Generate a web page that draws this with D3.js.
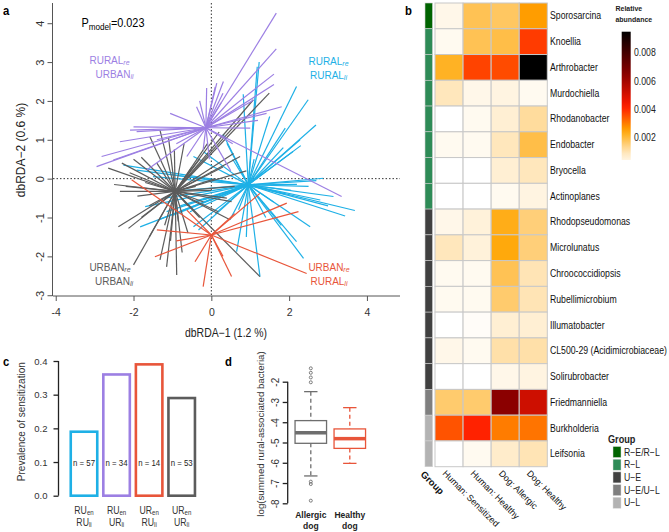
<!DOCTYPE html>
<html lang="en">
<head>
<meta charset="UTF-8">
<title>dbRDA, heatmap, prevalence, boxplot</title>
<script src="https://cdn.jsdelivr.net/npm/d3@7/dist/d3.min.js"></script>
<style>
  body { margin: 0; background: #fff; }
  svg { font-family: "Liberation Sans", Arial, sans-serif; }
  .axa path, .axa line { stroke: #555; }
  .axa text { fill: #333; }
  .axc path, .axc line { stroke: #222; stroke-width: 1.3; }
  .axc text { fill: #333; }
</style>
</head>
<body>
<script>
// ---------- panel a: dbRDA spider plot ----------
var centroidRuralRural = [0.95, -0.16];
var centroidRuralUrban = [-0.14, 1.31];
var centroidUrbanRural = [0.0, -1.45];
var centroidUrbanUrban = [-0.93, -0.33];

var ptsRuralRural = [[1.23,3.0],[1.18,2.88],[0.82,2.17],[2.19,2.37],[2.49,2.03],[2.69,1.38],[2.28,1.0],[2.3,0.85],
  [2.1,0.7],[1.85,0.8],[2.88,0.01],[2.7,-0.05],[3.14,-0.46],[3.69,-0.82],[3.44,-0.96],[3.0,-0.7],[2.8,-0.55],
  [2.54,-1.24],[2.19,-1.62],[2.37,-2.05],[1.25,-2.52],[0.65,-1.88],[0.40,0.91],[0.55,0.5],[0.3,1.15],
  [-2.26,0.35],[-1.92,0.22],[-0.46,0.57],[-0.2,0.69],[-1.70,-0.72],[-1.15,-0.85],[-1.36,-1.06],[-0.46,-1.24],
  [-1.83,-1.24],[-0.33,-1.32],[0.48,-1.06],[-1.0,0.1],[-1.5,0.05],[-0.7,-0.3],[-1.2,-0.5],[-0.8,-0.7],
  [-1.0,-0.95],[-0.2,-0.55],[0.1,-0.9],[-0.55,-0.85],[2.2,-0.15],[2.5,-0.2],[1.9,-0.4],[1.6,-0.6],[1.4,-1.0],
  [1.8,-1.2],[0.9,-1.5],[1.5,1.6],[1.9,1.3],[1.1,0.5],[0.7,-0.8],[2.05,-0.3]];
var ptsRuralUrban = [[1.67,4.26],[1.67,3.34],[1.61,2.69],[1.61,2.42],[1.81,1.85],[1.42,1.68],[3.35,-0.46],
  [0.31,2.50],[0.10,2.36],[-0.12,2.33],[-0.21,0.74],[0.14,2.46],[0.30,2.20],[-1.06,1.68],[-2.09,1.25],
  [-2.35,0.95],[-2.95,0.31],[-2.52,0.48],[-1.92,1.21],[-1.40,1.00],[-0.63,0.57],[-1.66,0.22],[1.08,2.02],
  [1.2,1.5],[0.55,0.9],[-0.38,1.85],[-2.0,1.33],[-2.82,0.57],[0.5,0.2],[-0.9,0.9],[-0.05,0.5],[0.25,1.95],
  [1.0,1.3],[-0.3,2.0]];
var ptsUrbanRural = [[1.25,-0.38],[1.94,-0.63],[2.24,-0.85],[2.45,-2.44],[0.52,-2.52],[-0.21,-2.78],[-2.05,-0.03],
  [-1.40,-1.32],[-1.45,-2.01],[-0.42,-2.14],[-0.63,-0.81],[0.6,-0.9],[-0.9,-1.6],[0.3,-2.0]];
var ptsUrbanUrban = [[1.49,2.20],[1.08,2.03],[0.74,1.51],[0.74,0.57],[0.57,0.65],[0.52,-0.59],[0.48,-1.06],
  [1.25,-2.52],[0.18,-0.85],[0.3,0.3],[0.9,0.2],[-0.1,0.9],[0.2,1.2],[-1.32,1.25],[-1.58,1.08],[-1.1,1.05],
  [-0.95,0.75],[-0.7,0.9],[-1.8,0.55],[-2.1,0.15],[-2.65,0.27],[-2.0,0.5],[-2.35,-0.33],[-2.2,-0.2],
  [-1.9,-0.45],[-2.5,-0.15],[-1.6,-0.7],[-2.39,-1.24],[-2.13,-1.28],[-2.0,-2.22],[-1.6,-1.5],[-1.8,-1.0],
  [-1.15,-2.27],[-0.89,-2.48],[-1.32,-2.09],[-0.75,-1.9],[-1.05,-1.6],[-0.6,-1.4],[-1.2,-1.2],[-0.85,-1.1],
  [-0.2,-0.6],[0.0,-0.3],[0.4,-0.5],[-0.3,-1.0],[0.1,0.0],[-0.5,0.3],[-0.3,0.5],[-0.6,-0.7],
  [-1.4,0.4],[-1.7,-0.1],[-0.4,-0.2],[0.6,-0.2],[-2.3,0.4]];
var axisTicksX = [-4, -2, 0, 2, 4];
var axisTicksY = [-3, -2, -1, 0, 1, 2, 3, 4];

// ---------- panel b: heatmap ----------
var genera = ["Sporosarcina","Knoellia","Arthrobacter","Murdochiella","Rhodanobacter","Endobacter","Bryocella",
  "Actinoplanes","Rhodopseudomonas","Microlunatus","Chroococcidiopsis","Rubellimicrobium","Illumatobacter",
  "CL500-29 (Acidimicrobiaceae)","Solirubrobacter","Friedmanniella","Burkholderia","Leifsonia"];
var generaGroup = ["R−E/R−L","R−L","R−L","R−L","R−L","R−L","R−L","R−L","U−E","U−E","U−E","U−E","U−E","U−E","U−E",
  "U−E/U−L","U−L","U−L"];
var sampleTypes = ["Human: Sensitized","Human: Healthy","Dog: Allergic","Dog: Healthy"];
var humanSensitized = [0.0003,0.0002,0.0022,0.0009,0,0.0002,0,0,0.0003,0.0009,0.0002,0.0002,0,0.0003,0,0.0016,0.0035,0];
var humanHealthy    = [0.0018,0.0018,0.0037,0.0003,0.0002,0.0002,0,0,0.0005,0.0005,0.0002,0.0002,0.0001,0.0002,0,0.0016,0.0041,0.0002];
var dogAllergic     = [0.0017,0.0019,0.0036,0.0004,0.0006,0.0009,0.0006,0.0002,0.0023,0.0024,0.0018,0.0016,0.0006,0.0011,0.0003,0.0065,0.0030,0.0007];
var dogHealthy      = [0.0026,0.0038,0.0095,0.0002,0.0012,0.0019,0.0009,0.0004,0.0015,0.0015,0.0010,0.0010,0.0006,0.0011,0.0004,0.0052,0.0031,0.0010];
var groupLevels = ["R−E/R−L","R−L","U−E","U−E/U−L","U−L"];
var groupFill = ["#006400","#2e8b57","#404040","#7f7f7f","#b3b3b3"];
var legendTicks = [0.002, 0.004, 0.006, 0.008];

// ---------- panel c: prevalence ----------
var prevRe = ["RU","RU","UR","UR"];
var prevLi = ["RU","UR","RU","UR"];
var prevalence = [0.19, 0.36, 0.39, 0.29];
var prevN = [57, 34, 14, 53];
var prevColors = ["#1eb0e6", "#9c7fe3", "#e8553a", "#5c5c5c"];

// ---------- panel d: boxplot ----------
var boxNames = ["Allergic", "Healthy"];
var boxLow = [-6.65, -6.03];
var boxQ1 = [-5.04, -5.29];
var boxMed = [-4.52, -4.81];
var boxQ3 = [-3.92, -4.33];
var boxHigh = [-2.49, -3.28];
var boxOutliers = [[-1.34, -1.56, -1.79, -2.03, -6.93, -7.05, -7.87], []];
var boxColors = ["#6e6e6e", "#e8553a"];

var SQ = 0.87; // glyphs in the original are horizontally narrow

var svg = d3.select("body").append("svg").attr("width", 669).attr("height", 532);

function label(g, x, y, s, size, o) {
  o = o || {};
  return g.append("text")
    .attr("transform", "translate(" + x + "," + y + ") scale(" + SQ + ",1)")
    .attr("font-size", size)
    .attr("text-anchor", o.anchor || "start")
    .attr("font-weight", o.bold ? "bold" : null)
    .attr("fill", o.fill || "#000")
    .text(s);
}
function subLabel(g, x, y, main, sub, size, o) {
  o = o || {};
  var t = g.append("text")
    .attr("transform", "translate(" + x + "," + y + ") scale(" + SQ + ",1)")
    .attr("font-size", size)
    .attr("text-anchor", o.anchor || "middle")
    .attr("fill", o.fill || "#000");
  t.append("tspan").text(main);
  t.append("tspan").attr("font-size", "0.7em").attr("dy", "0.2em")
    .attr("font-style", o.italic ? "italic" : null).text(sub);
  return t;
}
function minus(d) { return d < 0 ? "-" + (-d) : String(d); }

// ================= panel a =================
var ga = svg.append("g");
var xA = d3.scaleLinear().domain([-4.07, 4.85]).range([53, 400]);
var yA = d3.scaleLinear().domain([-3.02, 4.52]).range([296, 3]);

ga.append("line").attr("x1", xA(0)).attr("x2", xA(0)).attr("y1", 3).attr("y2", 296)
  .attr("stroke", "#333").attr("stroke-dasharray", "1.5,2");
ga.append("line").attr("x1", 53).attr("x2", 400).attr("y1", yA(0)).attr("y2", yA(0))
  .attr("stroke", "#333").attr("stroke-dasharray", "1.5,2");

var spiders = [
  {c: centroidRuralRural, pts: ptsRuralRural, col: "#1eb0e6"},
  {c: centroidUrbanUrban, pts: ptsUrbanUrban, col: "#5c5c5c"},
  {c: centroidUrbanRural, pts: ptsUrbanRural, col: "#e8553a"},
  {c: centroidRuralUrban, pts: ptsRuralUrban, col: "#9c7fe3"}
];
spiders.forEach(function (s) {
  ga.append("g").selectAll("line").data(s.pts).enter().append("line")
    .attr("x1", xA(s.c[0])).attr("y1", yA(s.c[1]))
    .attr("x2", function (d) { return xA(d[0]); })
    .attr("y2", function (d) { return yA(d[1]); })
    .attr("stroke", s.col).attr("stroke-width", 1.2);
});

var axA = d3.axisBottom(xA).tickValues(axisTicksX).tickSize(5).tickPadding(8).tickFormat(minus);
ga.append("g").attr("class", "axa").attr("transform", "translate(0,296)").call(axA)
  .call(function (g) { g.select(".domain").attr("d", "M53,0H400"); })
  .selectAll("text").attr("font-size", 10.5);
var ayA = d3.axisLeft(yA).tickValues(axisTicksY).tickSize(5).tickFormat(minus);
ga.append("g").attr("class", "axa").attr("transform", "translate(52.5,0)").call(ayA)
  .call(function (g) { g.select(".domain").attr("d", "M0,3V296"); })
  .selectAll("text").attr("font-size", 11).attr("transform", "rotate(-90)")
  .attr("x", 0).attr("y", -9).attr("dy", 0).attr("text-anchor", "middle");

label(ga, 226, 337, "dbRDA−1 (1.2 %)", 12, {anchor: "middle", fill: "#222"});
ga.append("text").attr("transform", "translate(25,150) rotate(-90)").attr("text-anchor", "middle")
  .attr("font-size", 12).attr("fill", "#222").text("dbRDA−2 (0.6 %)");

var pm = ga.append("text").attr("transform", "translate(81.5,27) scale(" + SQ + ",1)").attr("font-size", 12.5);
pm.append("tspan").text("P");
pm.append("tspan").attr("font-size", "0.75em").attr("dy", "0.3em").text("model");
pm.append("tspan").attr("dy", "-0.22em").text("=0.023");

subLabel(ga, 109.5, 63.5, "RURAL", "re", 11.5, {fill: "#9c7fe3", italic: true});
subLabel(ga, 114.5, 77.5, "URBAN", "li", 11.5, {fill: "#9c7fe3", italic: true});
subLabel(ga, 328.5, 64.5, "RURAL", "re", 11.5, {fill: "#1eb0e6", italic: true});
subLabel(ga, 328.5, 78.5, "RURAL", "li", 11.5, {fill: "#1eb0e6", italic: true});
subLabel(ga, 110, 270.5, "URBAN", "re", 11.5, {fill: "#5c5c5c", italic: true});
subLabel(ga, 114, 284.5, "URBAN", "li", 11.5, {fill: "#5c5c5c", italic: true});
subLabel(ga, 329, 270.5, "URBAN", "re", 11.5, {fill: "#e8553a", italic: true});
subLabel(ga, 329, 284.5, "RURAL", "li", 11.5, {fill: "#e8553a", italic: true});
label(svg, 3, 15, "a", 13, {bold: true});

// ================= panel b =================
var gb = svg.append("g");
var rowB = d3.scaleBand().domain(genera).range([3, 466.7]);
var colB = d3.scaleBand().domain(sampleTypes).range([435, 547.3]);
var color = d3.scaleLinear()
  .domain([0, 0.001, 0.0025, 0.0042, 0.0065, 0.0095])
  .range(["#ffffff", "#ffe4b5", "#ffa500", "#ff1a00", "#8b0000", "#000000"])
  .clamp(true);
var groupColor = d3.scaleOrdinal().domain(groupLevels).range(groupFill);
var columns = [humanSensitized, humanHealthy, dogAllergic, dogHealthy];

var cells = [];
genera.forEach(function (g, i) {
  sampleTypes.forEach(function (s, j) { cells.push({g: g, s: s, v: columns[j][i]}); });
});
gb.selectAll("rect.cell").data(cells).enter().append("rect").attr("class", "cell")
  .attr("x", function (d) { return colB(d.s); })
  .attr("y", function (d) { return rowB(d.g); })
  .attr("width", colB.bandwidth()).attr("height", rowB.bandwidth())
  .attr("fill", function (d) { return color(d.v); })
  .attr("stroke", "#c8c8c8").attr("stroke-width", 1);

gb.selectAll("rect.grp").data(genera).enter().append("rect").attr("class", "grp")
  .attr("x", 425).attr("width", 7.5)
  .attr("y", function (d) { return rowB(d); })
  .attr("height", rowB.bandwidth())
  .attr("fill", function (d, i) { return groupColor(generaGroup[i]); })
  .attr("stroke", "#cfcfcf").attr("stroke-width", 0.6);

genera.forEach(function (g) {
  label(gb, 550, rowB(g) + rowB.bandwidth() / 2 + 3.5, g, 10, {fill: "#111"});
});
sampleTypes.forEach(function (s) {
  gb.append("text")
    .attr("transform", "translate(" + (colB(s) + colB.bandwidth() / 2 - 7) + ",474) rotate(45)")
    .attr("font-size", 9).attr("fill", "#111").text(s);
});
gb.append("text").attr("transform", "translate(420,475) rotate(45)")
  .attr("font-size", 9.5).attr("font-weight", "bold").attr("fill", "#111").text("Group");

// colour legend
var defs = svg.append("defs");
var grad = defs.append("linearGradient").attr("id", "abund").attr("x1", 0).attr("x2", 0).attr("y1", 1).attr("y2", 0);
var legLo = 0.0004, legHi = 0.0095;
d3.range(0, 1.0001, 0.05).forEach(function (t) {
  grad.append("stop").attr("offset", t).attr("stop-color", color(legLo + t * (legHi - legLo)));
});
var yLeg = d3.scaleLinear().domain([legLo, legHi]).range([160, 31.7]);
gb.append("rect").attr("x", 621.7).attr("y", 31.7).attr("width", 9).attr("height", 128.3)
  .attr("fill", "url(#abund)");
legendTicks.forEach(function (v) {
  label(gb, 634, yLeg(v) + 3.5, d3.format(".3f")(v), 10, {fill: "#222"});
});
label(gb, 615.5, 10.5, "Relative", 8, {bold: true, fill: "#222"});
label(gb, 615.5, 21.5, "abundance", 8, {bold: true, fill: "#222"});

// group legend
label(gb, 608, 443, "Group", 10.5, {bold: true, fill: "#222"});
groupLevels.forEach(function (g, i) {
  gb.append("rect").attr("x", 613).attr("y", 446.5 + i * 12.7).attr("width", 8).attr("height", 11)
    .attr("fill", groupColor(g)).attr("stroke", "#ddd").attr("stroke-width", 0.5);
  label(gb, 624, 446.5 + i * 12.7 + 9, g, 10, {fill: "#222"});
});
label(svg, 405, 15, "b", 13, {bold: true});

// ================= panel c =================
var gc = svg.append("g");
var yC = d3.scaleLinear().domain([0, 0.4]).range([495.7, 361]);
var xC = d3.scalePoint().domain(d3.range(prevalence.length)).range([84, 181.7]);
var barW = 26.5;
gc.selectAll("rect").data(prevalence).enter().append("rect")
  .attr("x", function (d, i) { return xC(i) - barW / 2; })
  .attr("y", function (d) { return yC(d); })
  .attr("width", barW)
  .attr("height", function (d) { return yC(0) - yC(d); })
  .attr("fill", "none")
  .attr("stroke", function (d, i) { return prevColors[i]; })
  .attr("stroke-width", 2.6);
prevN.forEach(function (n, i) {
  label(gc, xC(i), 465.5, "n = " + n, 9, {anchor: "middle", fill: "#222"});
  subLabel(gc, xC(i), 514, prevRe[i], "en", 10, {fill: "#333"});
  subLabel(gc, xC(i), 525.5, prevLi[i], "li", 10, {fill: "#333"});
});
gc.append("g").attr("class", "axc").attr("transform", "translate(58.5,0)")
  .call(d3.axisLeft(yC).tickValues([0, 0.1, 0.2, 0.3, 0.4]).tickFormat(d3.format(".1f")).tickSize(5).tickPadding(6))
  .call(function (g) { g.select(".domain").attr("d", "M0,361V495.7"); })
  .selectAll("text").attr("font-size", 9.5);
gc.append("text").attr("transform", "translate(25,421.7) rotate(-90)").attr("text-anchor", "middle")
  .attr("font-size", 10).attr("fill", "#333").text("Prevalence of sensitization");
label(svg, 3, 366, "c", 13, {bold: true});

// ================= panel d =================
var gd = svg.append("g");
var yD = d3.scaleLinear().domain([-8, -2]).range([503.3, 381.7]);
var xD = d3.scalePoint().domain(boxNames).range([310.8, 349.8]);
var boxW = 31.5, capW = 13.4;
boxNames.forEach(function (b, i) {
  var cx = xD(b), col = boxColors[i];
  gd.append("line").attr("x1", cx).attr("x2", cx).attr("y1", yD(boxHigh[i])).attr("y2", yD(boxQ3[i]))
    .attr("stroke", col).attr("stroke-width", 1.3).attr("stroke-dasharray", "4,3");
  gd.append("line").attr("x1", cx).attr("x2", cx).attr("y1", yD(boxQ1[i])).attr("y2", yD(boxLow[i]))
    .attr("stroke", col).attr("stroke-width", 1.3).attr("stroke-dasharray", "4,3");
  [boxHigh[i], boxLow[i]].forEach(function (v) {
    gd.append("line").attr("x1", cx - capW / 2).attr("x2", cx + capW / 2).attr("y1", yD(v)).attr("y2", yD(v))
      .attr("stroke", col).attr("stroke-width", 1.3);
  });
  gd.append("rect").attr("x", cx - boxW / 2).attr("width", boxW)
    .attr("y", yD(boxQ3[i])).attr("height", yD(boxQ1[i]) - yD(boxQ3[i]))
    .attr("fill", "#fff").attr("stroke", col).attr("stroke-width", 1.3);
  gd.append("line").attr("x1", cx - boxW / 2).attr("x2", cx + boxW / 2)
    .attr("y1", yD(boxMed[i])).attr("y2", yD(boxMed[i]))
    .attr("stroke", col).attr("stroke-width", 3.5);
  gd.selectAll(null).data(boxOutliers[i]).enter().append("circle")
    .attr("cx", cx).attr("cy", function (d) { return yD(d); }).attr("r", 1.5)
    .attr("fill", "none").attr("stroke", col).attr("stroke-width", 0.9);
  label(gd, cx, 517.5, b, 9.8, {anchor: "middle", bold: true, fill: "#222"});
  label(gd, cx, 529, "dog", 9.8, {anchor: "middle", bold: true, fill: "#222"});
});
gd.append("g").attr("class", "axc").attr("transform", "translate(287.7,0)")
  .call(d3.axisLeft(yD).tickValues([-8, -7, -6, -5, -4, -3, -2]).tickSize(5).tickFormat(minus))
  .call(function (g) { g.select(".domain").attr("d", "M0,381.7V503.3"); })
  .selectAll("text").attr("font-size", 10).attr("transform", "rotate(-90)")
  .attr("x", 0).attr("y", -9).attr("dy", 0).attr("text-anchor", "middle");
gd.append("text").attr("transform", "translate(264,434) rotate(-90)").attr("text-anchor", "middle")
  .attr("font-size", 9.7).attr("fill", "#333").text("log(summed rural-associated bacteria)");
label(svg, 225, 366, "d", 13, {bold: true});
</script>
</body>
</html>
